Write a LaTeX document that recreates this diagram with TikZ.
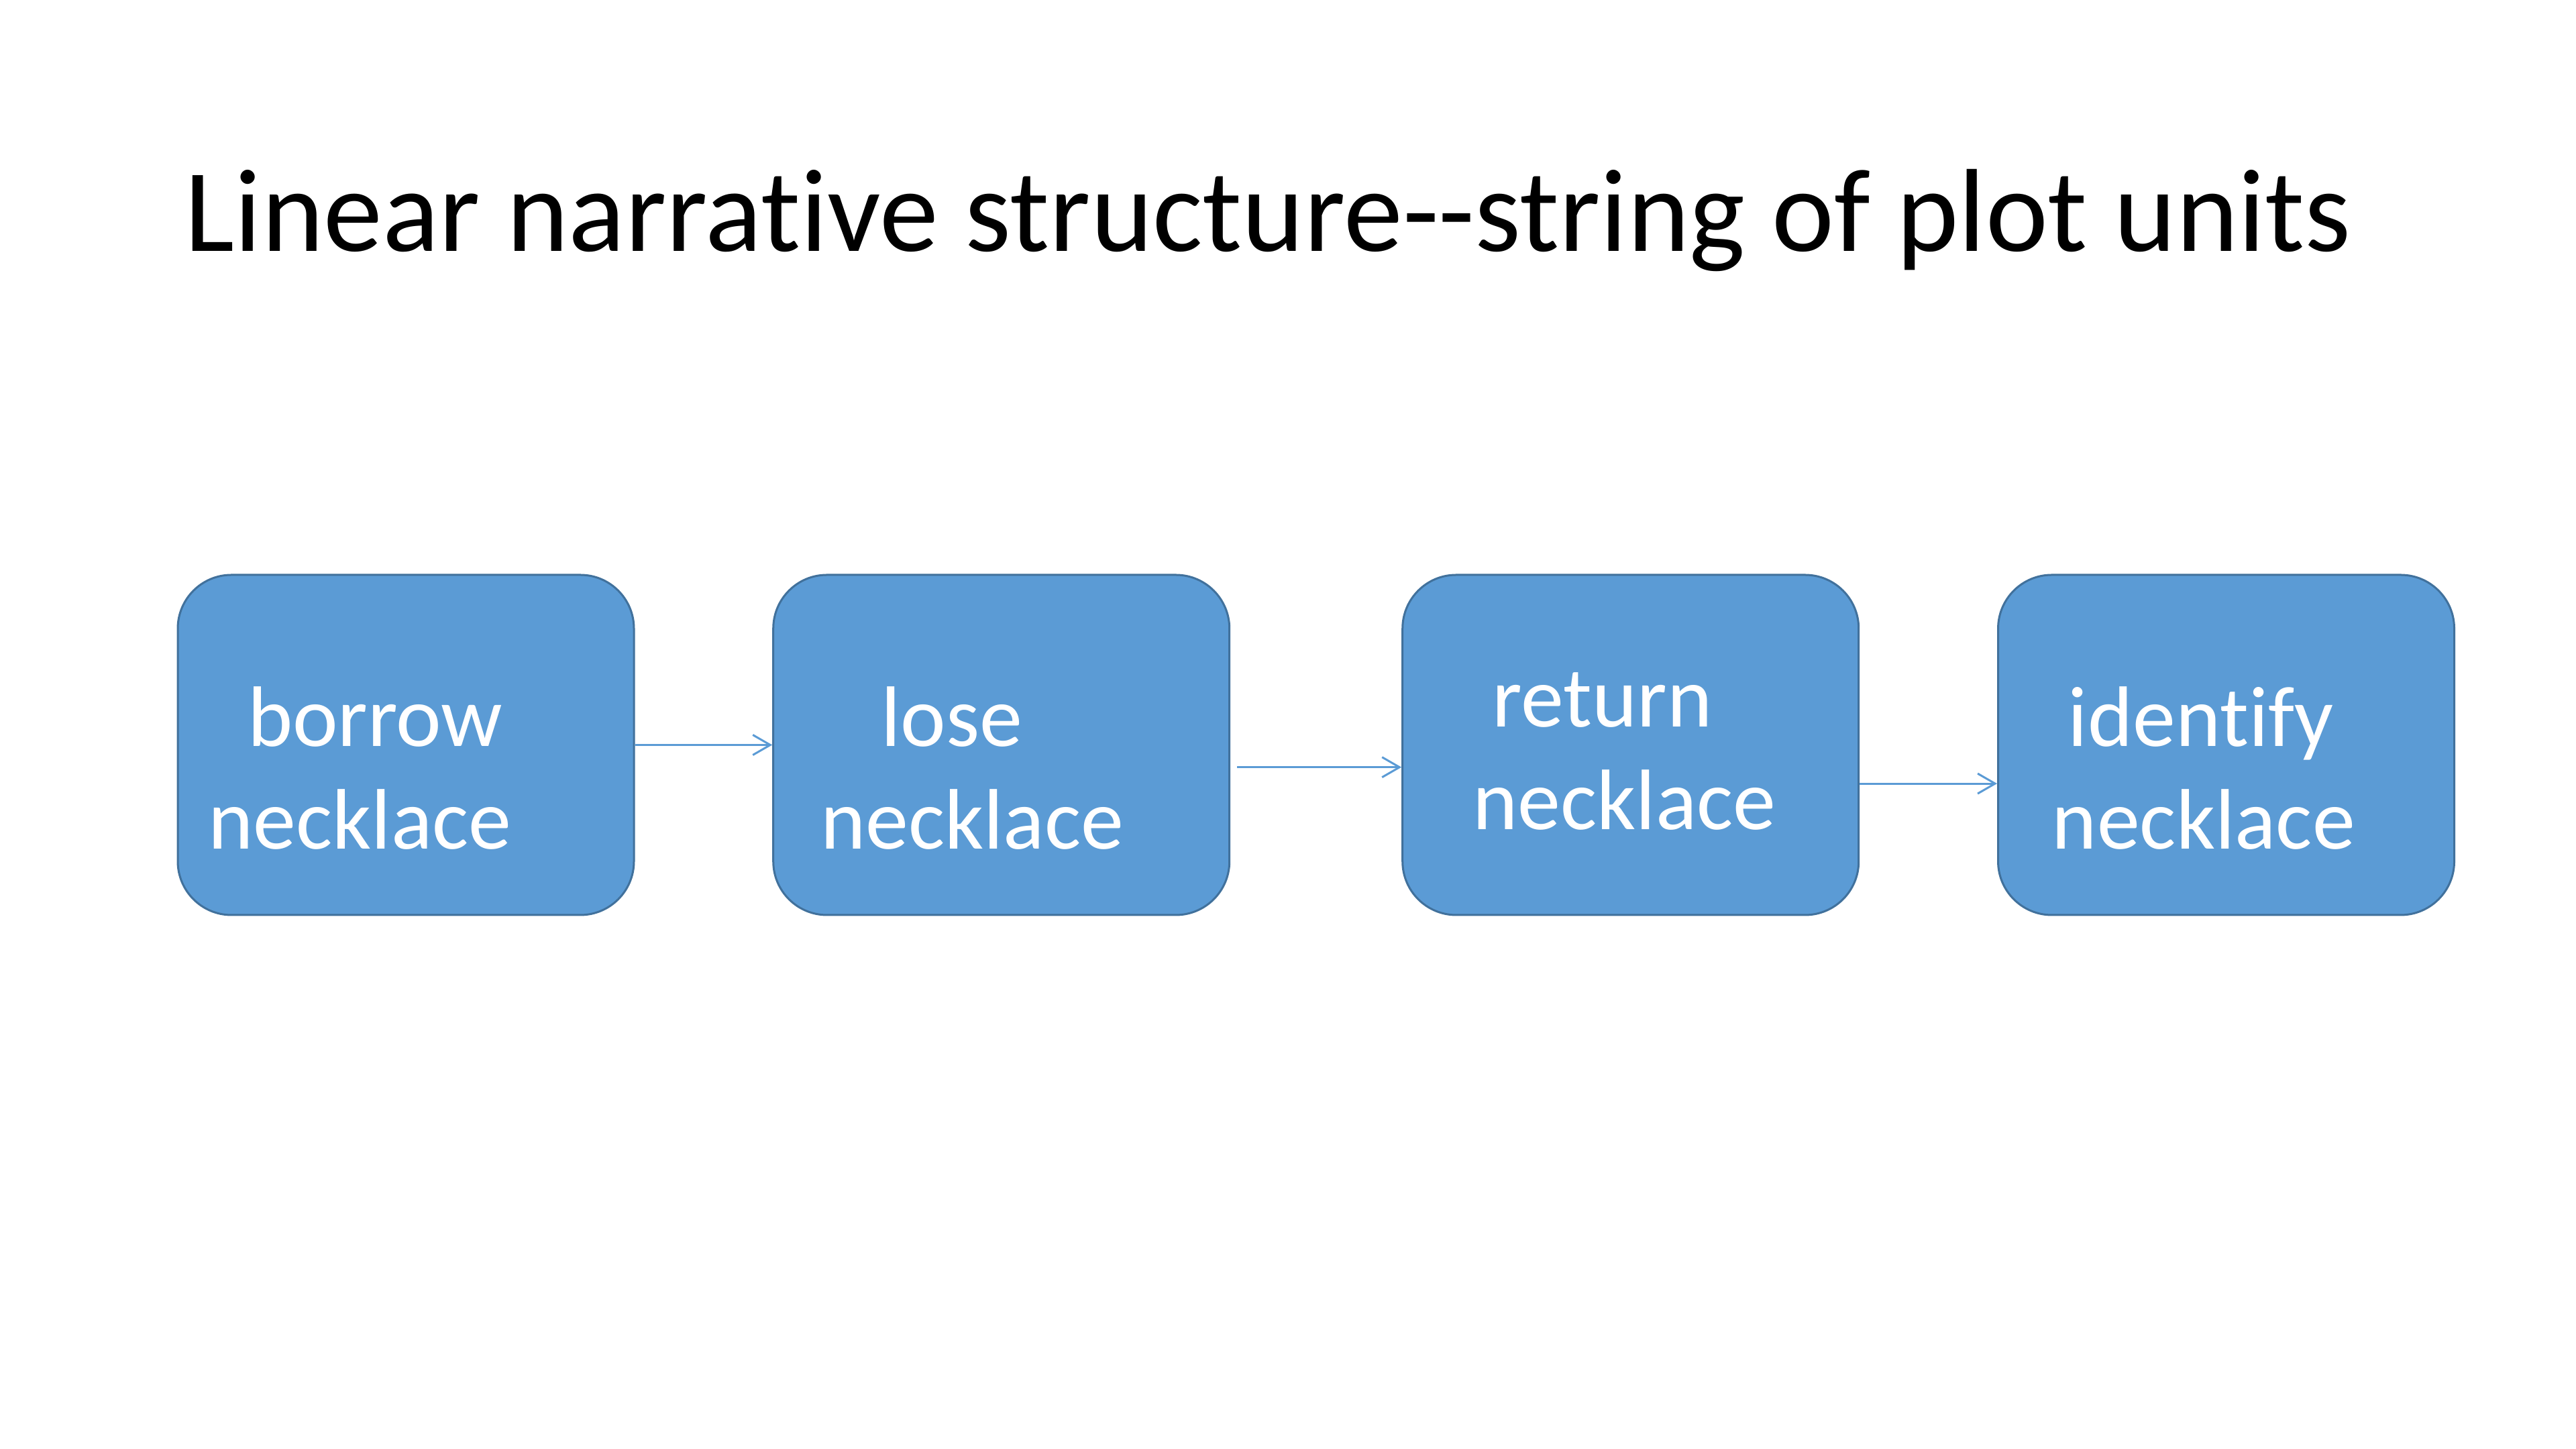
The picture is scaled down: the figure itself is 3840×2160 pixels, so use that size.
\documentclass[tikz,border=0pt]{standalone}
\usepackage{fontspec}
\setmainfont{Carlito}[Ligatures=NoCommon]
\usepackage{tikz}
\usetikzlibrary{arrows.meta,positioning,calc}
\definecolor{unitfill}{HTML}{5B9BD5}
\definecolor{unitedge}{HTML}{41719C}

\tikzset{
  unit/.style={draw=unitedge,fill=unitfill,line width=0.75pt,rounded corners=20pt,
    minimum width=170pt,minimum height=126.75pt,inner xsep=0pt,inner ysep=0pt,
    text width=170pt,align=left,text=white,font=\fontsize{32}{38.4}\selectfont},
  link/.style={draw=unitfill,line width=0.75pt,-{Straight Barb[length=6.5pt,width=7.5pt]}}
}

\begin{document}
\begin{tikzpicture}[x=0.25pt,y=0.25pt]
  \useasboundingbox (0,0) rectangle (3840,2160);
  \node[anchor=base west,inner sep=0pt,font=\fontsize{44}{52.8}\selectfont] (title) at (275,1785) {Linear narrative structure-{}-string of plot units};
  % the four plot units
  \node[unit] (borrow) at (605,1049.5) {\rule{0pt}{39.5pt}\hspace*{26pt}borrow\\\hspace*{11.4pt}necklace};
  \node[unit] (lose) at (1492.7,1049.5) {\rule{0pt}{39.5pt}\hspace*{40.2pt}lose\\\hspace*{17.6pt}necklace};
  \node[unit] (return) at (2430.7,1049.5) {\rule{0pt}{25pt}\hspace*{33.4pt}return\\\hspace*{26.2pt}necklace};
  \node[unit] (identify) at (3318.5,1049.5) {\rule{0pt}{39.5pt}\hspace*{26.1pt}identify\\\hspace*{20.1pt}necklace};
  % connectors
  \draw[link] (borrow.east) -- (lose.west);
  \draw[link] ([xshift=2.5pt,yshift=-8.3pt]lose.east) -- ([yshift=-8.3pt]return.west);
  \draw[link] ([yshift=-14.4pt]return.east) -- ([yshift=-14.4pt]identify.west);
\end{tikzpicture}
\end{document}
